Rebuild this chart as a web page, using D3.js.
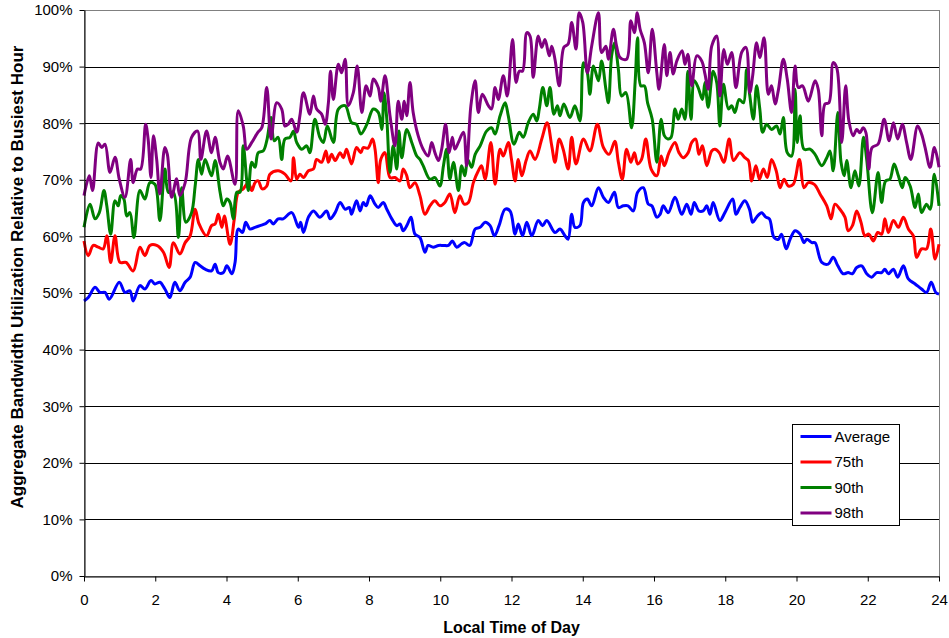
<!DOCTYPE html>
<html>
<head>
<meta charset="utf-8">
<script src="https://cdnjs.cloudflare.com/ajax/libs/d3/7.8.5/d3.min.js"></script>
<style>
  body { margin: 0; background: #fff; }
  svg { display: block; font-family: Arial, "Liberation Sans", sans-serif; }
</style>
</head>
<body>
<div id="mainDiv"></div>
<script>
'use strict';

var hourTicks = [0, 2, 4, 6, 8, 10, 12, 14, 16, 18, 20, 22, 24];
var pctTicks = [0, 10, 20, 30, 40, 50, 60, 70, 80, 90, 100];
var seriesNames = ['Average', '75th', '90th', '98th'];
var seriesColors = ['#0000ff', '#ff0000', '#008000', '#800080'];

// [hour of day, % of busiest hour]
var avgPoints = [[0.00,48.6],[0.12,49.2],[0.31,51.0],[0.45,50.1],[0.59,50.1],[0.71,48.9],[0.99,51.9],[1.15,50.1],[1.29,50.4],[1.38,48.6],
  [1.57,51.3],[1.71,50.7],[1.88,52.2],[1.99,51.6],[2.13,51.9],[2.27,50.7],[2.41,49.2],[2.55,51.9],[2.69,50.4],[2.84,51.9],
  [2.98,52.8],[3.12,55.4],[3.26,54.8],[3.40,54.2],[3.58,53.9],[3.68,55.1],[3.77,53.6],[3.91,53.6],[4.01,54.8],[4.15,53.4],
  [4.24,55.4],[4.33,61.3],[4.45,60.7],[4.54,62.5],[4.66,61.3],[4.80,61.6],[4.94,61.9],[5.08,62.2],[5.22,62.8],[5.31,62.2],
  [5.45,63.1],[5.59,63.1],[5.83,64.2],[6.02,61.6],[6.08,62.5],[6.16,60.7],[6.30,63.4],[6.44,64.5],[6.62,63.4],[6.81,64.5],
  [6.91,63.1],[7.05,64.2],[7.19,66.0],[7.33,64.8],[7.45,65.1],[7.51,63.9],[7.65,66.3],[7.75,64.5],[7.84,66.0],[7.92,65.4],
  [8.03,67.2],[8.17,65.7],[8.26,65.1],[8.40,66.0],[8.50,64.8],[8.64,63.1],[8.78,61.9],[8.87,62.2],[8.96,61.0],[9.07,62.0],
  [9.18,63.4],[9.29,60.4],[9.43,59.8],[9.57,57.2],[9.66,58.4],[9.80,58.1],[9.95,58.4],[10.09,58.4],[10.23,58.4],[10.34,59.2],
  [10.46,58.1],[10.60,58.7],[10.69,58.9],[10.83,58.4],[10.98,61.3],[11.12,61.6],[11.26,62.5],[11.40,61.9],[11.52,60.1],[11.65,61.9],
  [11.82,64.8],[11.96,64.5],[12.10,60.4],[12.19,62.2],[12.31,60.1],[12.43,62.5],[12.57,60.1],[12.75,62.8],[12.87,61.9],[12.99,62.8],
  [13.22,60.7],[13.36,61.3],[13.50,60.1],[13.59,59.5],[13.69,63.9],[13.78,61.6],[13.92,61.9],[14.02,66.0],[14.13,66.6],[14.25,65.4],
  [14.44,68.6],[14.58,66.9],[14.72,66.0],[14.89,67.8],[15.00,65.1],[15.14,65.4],[15.27,65.4],[15.42,64.5],[15.54,67.8],[15.70,68.6],
  [15.84,65.7],[15.94,65.4],[16.08,63.4],[16.17,63.9],[16.26,65.4],[16.40,64.2],[16.59,66.9],[16.78,63.9],[16.92,65.7],[17.04,63.9],
  [17.13,66.0],[17.26,64.5],[17.38,64.5],[17.48,65.4],[17.57,63.9],[17.66,66.0],[17.85,62.8],[17.99,64.2],[18.21,66.6],[18.30,63.9],
  [18.41,65.1],[18.55,66.3],[18.68,64.8],[18.77,62.5],[18.88,63.4],[19.02,64.2],[19.14,63.4],[19.24,63.1],[19.37,59.8],[19.49,59.5],
  [19.58,60.4],[19.71,57.8],[19.82,59.5],[19.96,61.0],[20.10,60.4],[20.21,58.9],[20.29,59.5],[20.43,58.9],[20.52,58.9],[20.71,55.4],
  [20.89,55.1],[21.03,56.3],[21.16,54.8],[21.31,53.4],[21.45,53.6],[21.57,53.4],[21.69,54.5],[21.83,54.8],[21.97,53.4],[22.11,52.8],
  [22.25,53.6],[22.39,53.6],[22.48,54.2],[22.58,53.4],[22.72,54.2],[22.84,52.8],[23.00,54.8],[23.14,52.5],[23.33,51.6],[23.51,50.7],
  [23.65,50.1],[23.78,51.9],[23.91,50.1],[24.00,49.8]];

var p75Points = [[0.00,59.2],[0.12,56.6],[0.26,58.4],[0.40,58.1],[0.54,57.8],[0.64,60.1],[0.75,55.4],[0.87,60.1],[1.01,55.4],[1.18,55.4],
  [1.38,53.9],[1.57,58.1],[1.71,56.6],[1.85,58.4],[2.04,58.4],[2.23,57.2],[2.39,54.5],[2.51,58.9],[2.69,56.9],[2.84,58.9],
  [2.98,60.1],[3.12,64.8],[3.23,62.2],[3.44,60.1],[3.58,61.9],[3.68,62.2],[3.77,63.9],[3.87,61.6],[3.94,63.6],[4.10,58.6],
  [4.22,63.1],[4.33,67.8],[4.47,68.4],[4.61,69.5],[4.71,68.1],[4.80,69.5],[4.89,69.8],[5.00,68.4],[5.13,68.9],[5.22,71.0],
  [5.45,71.6],[5.64,71.0],[5.81,69.8],[5.88,73.9],[5.97,70.1],[6.06,71.0],[6.16,70.4],[6.30,71.6],[6.44,71.9],[6.53,73.6],
  [6.67,73.1],[6.79,75.1],[6.86,73.1],[6.95,74.5],[7.05,73.4],[7.19,74.8],[7.28,73.9],[7.37,75.4],[7.51,72.8],[7.65,75.7],
  [7.77,74.8],[7.84,75.7],[7.97,75.6],[8.10,77.2],[8.17,75.4],[8.26,69.5],[8.33,73.6],[8.45,74.8],[8.59,70.4],[8.73,70.4],
  [8.87,69.8],[8.96,71.9],[9.06,70.7],[9.15,68.6],[9.29,69.5],[9.43,67.2],[9.57,63.9],[9.71,65.4],[9.85,66.3],[9.99,65.4],
  [10.13,66.0],[10.27,67.5],[10.41,64.2],[10.55,67.2],[10.67,65.7],[10.79,66.0],[10.93,69.5],[11.07,71.6],[11.16,72.5],[11.26,70.1],
  [11.42,76.6],[11.54,69.2],[11.68,75.4],[11.77,74.2],[11.91,76.6],[12.00,73.6],[12.10,69.8],[12.19,73.6],[12.29,70.7],[12.41,73.4],
  [12.52,75.1],[12.66,73.6],[12.85,77.2],[13.00,80.1],[13.13,76.0],[13.22,73.1],[13.34,77.2],[13.45,75.4],[13.59,71.9],[13.69,77.5],
  [13.81,72.8],[14.02,77.2],[14.20,75.1],[14.41,79.8],[14.58,75.7],[14.74,74.5],[14.90,76.8],[15.00,73.1],[15.11,70.1],[15.23,75.4],
  [15.35,73.1],[15.45,74.8],[15.54,72.8],[15.65,73.6],[15.77,77.2],[15.92,71.9],[16.08,70.7],[16.20,74.2],[16.29,72.5],[16.42,74.8],
  [16.59,76.6],[16.70,74.8],[16.82,73.9],[16.96,74.8],[17.06,76.6],[17.17,77.2],[17.26,74.5],[17.36,76.0],[17.48,72.5],[17.62,75.1],
  [17.71,75.4],[17.83,74.8],[17.96,73.1],[18.11,77.2],[18.23,73.4],[18.41,74.8],[18.55,73.9],[18.65,73.4],[18.74,69.8],[18.86,72.5],
  [18.96,70.1],[19.07,71.9],[19.18,70.4],[19.30,73.6],[19.43,71.6],[19.54,68.6],[19.65,70.1],[19.77,68.9],[19.91,69.2],[20.08,73.6],
  [20.21,68.6],[20.33,69.5],[20.50,69.2],[20.66,67.5],[20.85,65.4],[20.97,63.1],[21.08,65.7],[21.22,64.8],[21.36,63.4],[21.45,61.0],
  [21.57,61.9],[21.69,64.5],[21.81,62.5],[21.92,60.1],[22.03,60.4],[22.16,59.2],[22.28,60.7],[22.39,60.4],[22.48,63.1],[22.58,60.7],
  [22.72,62.8],[22.86,61.6],[23.00,63.4],[23.14,61.3],[23.28,60.1],[23.37,56.3],[23.51,57.8],[23.65,57.8],[23.77,61.3],[23.89,56.0],
  [24.00,58.6]];

var p90Points = [[0.00,61.6],[0.17,65.7],[0.31,63.1],[0.43,64.2],[0.56,68.1],[0.64,65.4],[0.75,60.4],[0.87,66.3],[0.96,65.4],[1.03,67.2],
  [1.12,66.6],[1.20,63.6],[1.29,64.2],[1.40,59.8],[1.57,68.1],[1.71,66.6],[1.85,69.5],[1.99,69.2],[2.13,62.8],[2.27,71.9],
  [2.37,67.8],[2.51,67.8],[2.65,59.8],[2.74,68.6],[2.86,62.5],[3.02,64.2],[3.12,68.9],[3.21,73.6],[3.30,71.0],[3.40,73.6],
  [3.58,70.7],[3.68,73.4],[3.82,67.8],[3.91,65.4],[4.01,66.6],[4.10,66.0],[4.19,63.1],[4.29,67.8],[4.38,67.8],[4.47,76.0],
  [4.61,68.1],[4.71,73.1],[4.80,72.2],[4.89,74.8],[5.03,75.1],[5.13,76.9],[5.25,81.0],[5.34,76.9],[5.45,77.5],[5.55,73.6],
  [5.64,77.2],[5.78,77.5],[5.88,78.6],[5.97,76.6],[6.11,75.4],[6.25,76.0],[6.34,74.8],[6.48,80.7],[6.62,77.5],[6.72,76.6],
  [6.83,79.5],[7.00,76.6],[7.14,82.5],[7.33,83.1],[7.51,80.1],[7.65,79.8],[7.77,78.1],[7.94,79.8],[8.12,82.5],[8.26,81.9],
  [8.36,78.9],[8.42,85.4],[8.50,80.7],[8.59,71.3],[8.68,76.0],[8.78,71.9],[8.84,78.6],[8.92,73.9],[9.06,78.9],[9.20,76.6],
  [9.34,74.2],[9.43,73.6],[9.52,72.5],[9.71,70.1],[9.85,70.4],[9.99,68.9],[10.09,72.5],[10.18,75.4],[10.27,70.1],[10.37,73.1],
  [10.51,68.1],[10.60,72.5],[10.69,70.7],[10.77,73.6],[10.88,72.2],[10.98,74.5],[11.12,76.0],[11.30,78.6],[11.44,79.2],[11.54,78.1],
  [11.68,81.3],[11.82,83.6],[11.91,81.3],[12.07,76.3],[12.22,78.4],[12.33,77.5],[12.47,80.1],[12.61,81.6],[12.71,80.4],[12.78,82.5],
  [12.88,86.3],[12.99,83.1],[13.08,86.3],[13.19,81.6],[13.29,83.1],[13.36,81.3],[13.47,83.4],[13.64,81.0],[13.78,83.1],[13.92,80.4],
  [14.02,90.7],[14.13,88.9],[14.20,85.1],[14.30,90.1],[14.44,87.5],[14.53,91.0],[14.65,86.0],[14.72,83.6],[14.81,91.9],[14.89,94.2],
  [15.00,89.5],[15.09,84.8],[15.21,85.4],[15.37,79.2],[15.47,87.2],[15.54,95.1],[15.63,86.6],[15.73,86.6],[15.82,83.6],[15.95,80.7],
  [16.08,73.1],[16.20,80.7],[16.29,77.8],[16.39,77.2],[16.48,77.5],[16.59,82.5],[16.68,80.7],[16.78,82.5],[16.87,80.7],[16.95,89.2],
  [17.04,80.7],[17.13,87.5],[17.24,86.3],[17.36,84.2],[17.43,87.2],[17.52,82.8],[17.66,89.2],[17.76,87.2],[17.85,79.5],[17.95,86.9],
  [18.09,82.5],[18.18,83.1],[18.27,81.9],[18.39,84.2],[18.51,83.6],[18.60,89.5],[18.69,84.8],[18.79,80.7],[18.88,86.6],[18.97,82.5],
  [19.05,78.4],[19.16,79.8],[19.30,78.9],[19.44,79.5],[19.54,78.1],[19.63,81.0],[19.74,74.8],[19.86,74.2],[19.96,86.0],[20.02,76.6],
  [20.10,81.3],[20.21,75.4],[20.38,75.4],[20.52,74.5],[20.71,72.5],[20.85,73.9],[20.94,75.1],[21.03,71.6],[21.16,81.9],[21.25,73.1],
  [21.34,70.7],[21.41,73.4],[21.53,68.6],[21.64,71.6],[21.75,68.9],[21.88,77.5],[21.97,73.6],[22.13,64.2],[22.29,71.3],[22.39,66.0],
  [22.50,69.8],[22.62,70.1],[22.74,72.8],[22.86,70.7],[22.97,68.6],[23.05,70.4],[23.19,68.9],[23.33,65.1],[23.42,67.5],[23.51,64.2],
  [23.65,65.7],[23.75,64.8],[23.87,71.0],[24.00,65.4]];

var p98Points = [[0.00,67.2],[0.15,70.7],[0.24,68.1],[0.40,76.5],[0.50,75.7],[0.59,76.3],[0.73,71.3],[0.87,74.0],[0.99,70.1],[1.15,66.9],
  [1.31,73.6],[1.38,69.5],[1.50,71.9],[1.59,71.9],[1.73,79.8],[1.80,77.2],[1.88,70.4],[1.95,77.8],[2.04,73.6],[2.13,67.5],
  [2.27,75.7],[2.34,74.5],[2.46,66.9],[2.60,70.2],[2.69,67.2],[2.84,69.5],[3.02,77.5],[3.19,78.6],[3.28,73.6],[3.44,78.6],
  [3.58,74.8],[3.68,77.5],[3.82,73.0],[3.91,71.9],[4.03,74.2],[4.24,69.2],[4.33,82.2],[4.47,79.5],[4.57,75.4],[4.71,76.6],
  [4.88,78.4],[4.99,79.2],[5.13,86.3],[5.25,77.2],[5.41,83.6],[5.55,82.5],[5.64,79.5],[5.73,79.8],[5.83,80.7],[5.97,78.4],
  [6.06,81.3],[6.16,85.4],[6.34,81.6],[6.44,84.8],[6.53,82.5],[6.67,81.6],[6.77,79.8],[6.86,83.6],[6.92,89.2],[7.00,84.2],
  [7.14,90.4],[7.23,88.9],[7.33,91.3],[7.42,83.1],[7.56,85.4],[7.67,90.1],[7.80,81.9],[7.92,86.6],[8.03,84.8],[8.12,87.8],
  [8.26,86.3],[8.33,83.9],[8.45,88.4],[8.59,81.3],[8.73,76.0],[8.82,83.9],[8.92,80.7],[8.99,83.9],[9.06,81.3],[9.15,87.2],
  [9.24,81.9],[9.38,77.8],[9.52,75.4],[9.66,74.2],[9.76,76.6],[9.85,74.8],[9.95,73.4],[10.04,75.4],[10.15,79.8],[10.25,74.8],
  [10.34,77.5],[10.41,75.4],[10.51,76.6],[10.65,78.4],[10.74,72.5],[10.86,83.1],[10.98,87.5],[11.07,81.9],[11.18,85.1],[11.35,83.1],
  [11.44,82.5],[11.54,86.3],[11.63,84.2],[11.77,88.4],[11.88,84.8],[12.03,94.8],[12.13,87.2],[12.22,89.2],[12.31,89.2],[12.43,96.0],
  [12.52,95.4],[12.61,88.1],[12.75,95.4],[12.85,93.4],[12.94,94.8],[13.06,91.9],[13.13,93.6],[13.22,91.3],[13.34,86.6],[13.47,93.4],
  [13.59,94.0],[13.69,97.8],[13.81,93.1],[13.90,99.5],[14.00,97.8],[14.13,88.9],[14.25,93.6],[14.44,99.5],[14.53,92.5],[14.65,93.6],
  [14.72,91.3],[14.86,96.6],[14.95,93.6],[15.05,91.6],[15.23,91.3],[15.35,98.1],[15.45,96.0],[15.53,99.5],[15.61,96.6],[15.73,94.2],
  [15.84,88.9],[15.95,96.6],[16.08,88.9],[16.14,86.0],[16.29,93.9],[16.36,88.4],[16.45,92.5],[16.54,88.7],[16.64,91.0],[16.79,92.8],
  [16.87,90.4],[16.95,92.2],[17.06,86.6],[17.20,91.9],[17.34,91.0],[17.43,88.7],[17.52,86.0],[17.62,93.6],[17.76,95.4],[17.85,84.8],
  [17.96,93.0],[18.06,90.4],[18.18,92.5],[18.30,86.3],[18.46,92.5],[18.58,93.4],[18.69,85.4],[18.77,88.4],[18.88,94.2],[18.97,91.6],
  [19.09,95.1],[19.21,85.1],[19.30,86.6],[19.40,83.4],[19.49,85.8],[19.63,91.3],[19.74,87.8],[19.86,81.9],[19.96,90.1],[20.05,86.3],
  [20.17,86.6],[20.33,83.9],[20.52,87.5],[20.61,86.0],[20.71,77.8],[20.80,83.4],[20.91,83.6],[21.03,90.7],[21.13,89.8],[21.27,76.6],
  [21.38,86.6],[21.47,80.4],[21.59,77.8],[21.69,78.9],[21.78,78.3],[21.87,79.2],[21.95,78.3],[22.03,71.9],[22.12,75.7],[22.29,76.3],
  [22.46,80.7],[22.60,76.9],[22.72,80.1],[22.84,77.2],[22.97,79.8],[23.09,76.6],[23.21,73.6],[23.40,79.5],[23.51,78.1],[23.61,75.7],
  [23.75,72.2],[23.87,75.7],[24.00,72.2]];

var chart = {};

chart.width = 949;
chart.height = 638;
chart.margins = {top: 10, bottom: 62, left: 84, right: 10};
chart.svg = undefined;
chart.x = undefined;
chart.y = undefined;

chart.appendSvg = function(div)
{
    chart.svg = d3.select(div).append('svg')
        .attr('width', chart.width)
        .attr('height', chart.height);
}

chart.buildScales = function()
{
    chart.x = d3.scaleLinear()
        .domain([0, 24])
        .range([chart.margins.left, chart.width - chart.margins.right]);
    chart.y = d3.scaleLinear()
        .domain([0, 100])
        .range([chart.height - chart.margins.bottom, chart.margins.top]);
}

chart.buildGrid = function()
{
    var x0 = chart.x(0), x1 = chart.x(24);

    chart.svg.append('g')
        .attr('class', 'grid')
        .selectAll('line')
        .data(pctTicks.filter(function(d){ return d > 0 && d < 100; }))
        .enter()
        .append('line')
        .attr('x1', x0)
        .attr('x2', x1)
        .attr('y1', function(d){ return Math.round(chart.y(d)) + 0.5; })
        .attr('y2', function(d){ return Math.round(chart.y(d)) + 0.5; })
        .attr('stroke', '#000')
        .attr('stroke-width', 1);

    // plot area border
    chart.svg.append('rect')
        .attr('x', x0 + 0.5)
        .attr('y', chart.y(100) + 0.5)
        .attr('width', x1 - x0)
        .attr('height', chart.y(0) - chart.y(100))
        .attr('fill', 'none')
        .attr('stroke', '#808080');
}

chart.buildAxes = function()
{
    var xAxis = d3.axisBottom(chart.x)
        .tickValues(hourTicks)
        .tickSize(5)
        .tickSizeOuter(0)
        .tickPadding(13);

    var yAxis = d3.axisLeft(chart.y)
        .tickValues(pctTicks)
        .tickFormat(function(d){ return d + '%'; })
        .tickSize(5)
        .tickSizeOuter(0)
        .tickPadding(7);

    var gx = chart.svg.append('g')
        .attr('transform', 'translate(0,' + (chart.y(0) + 0.5) + ')')
        .call(xAxis);

    var gy = chart.svg.append('g')
        .attr('transform', 'translate(' + (chart.x(0) + 0.5) + ',0)')
        .call(yAxis);

    [gx, gy].forEach(function(g){
        g.selectAll('path, line').attr('stroke', '#000');
        g.selectAll('text')
            .attr('fill', '#000')
            .style('font-size', '15px')
            .style('font-family', 'Arial, "Liberation Sans", sans-serif');
    });

    chart.svg.append('text')
        .attr('x', (chart.x(0) + chart.x(24)) / 2)
        .attr('y', 633)
        .attr('text-anchor', 'middle')
        .style('font-size', '16px')
        .style('font-weight', 'bold')
        .text('Local Time of Day');

    chart.svg.append('text')
        .attr('transform', 'translate(23,277) rotate(-90)')
        .attr('text-anchor', 'middle')
        .style('font-size', '17px')
        .style('font-weight', 'bold')
        .text('Aggregate Bandwidth Utilization Relative to Busiest Hour');
}

chart.buildLines = function()
{
    var allSeries = [avgPoints, p75Points, p90Points, p98Points];

    var line = d3.line()
        .x(function(d){ return chart.x(d[0]); })
        .y(function(d){ return chart.y(d[1]); })
        .curve(d3.curveCatmullRom.alpha(0.5));

    chart.svg.append('g')
        .attr('class', 'lines')
        .selectAll('path')
        .data(allSeries)
        .enter()
        .append('path')
        .attr('d', line)
        .attr('fill', 'none')
        .attr('stroke', function(d, i){ return seriesColors[i]; })
        .attr('stroke-width', 3)
        .attr('stroke-linejoin', 'round');
}

chart.buildLegend = function()
{
    var lg = chart.svg.append('g')
        .attr('transform', 'translate(792.5,424.5)');

    lg.append('rect')
        .attr('width', 107)
        .attr('height', 101)
        .attr('fill', '#fff')
        .attr('stroke', '#000');

    var rows = lg.selectAll('g.row')
        .data(seriesNames)
        .enter()
        .append('g')
        .attr('class', 'row')
        .attr('transform', function(d, i){ return 'translate(0,' + (12 + i * 25.5) + ')'; });

    rows.append('line')
        .attr('x1', 8)
        .attr('x2', 39)
        .attr('stroke', function(d, i){ return seriesColors[i]; })
        .attr('stroke-width', 3);

    rows.append('text')
        .attr('x', 42)
        .attr('dy', '0.35em')
        .style('font-size', '15px')
        .text(function(d){ return d; });
}

chart.run = function()
{
    chart.appendSvg('#mainDiv');
    chart.buildScales();
    chart.buildGrid();
    chart.buildLines();
    chart.buildAxes();
    chart.buildLegend();
}

window.onload = chart.run;
</script>
</body>
</html>
